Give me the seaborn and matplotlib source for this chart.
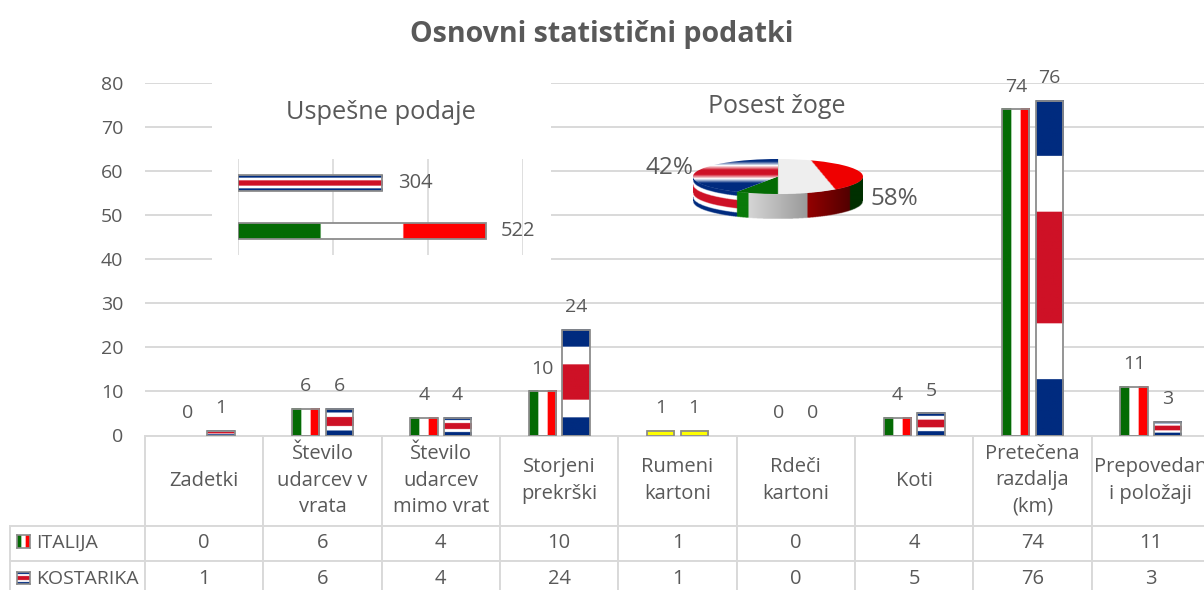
import numpy as np
import pandas as pd
import matplotlib
matplotlib.use('Agg')
import matplotlib.pyplot as plt
from matplotlib.colors import to_rgb
import seaborn as sns

# Podatki
categories = ["Zadetki", "Število\nudarcev v\nvrata", "Število\nudarcev\nmimo vrat", "Storjeni\nprekrški",
              "Rumeni\nkartoni", "Rdeči\nkartoni", "Koti", "Pretečena\nrazdalja\n(km)", "Prepovedan\ni položaji"]
italija = [0, 6, 4, 10, 1, 0, 4, 74, 11]
kostarika = [1, 6, 4, 24, 1, 0, 5, 76, 3]
teams = ["ITALIJA", "KOSTARIKA"]
passes = [304, 522]
pass_order = ["KOSTARIKA", "ITALIJA"]
possession = [58, 42]
yticks = [0, 10, 20, 30, 40, 50, 60, 70, 80]

W, H = 1204, 590
TXT = "#595959"
GRID = "#d9d9d9"
EDGE = "#8c8c8c"
GREEN, WHITE, RED = to_rgb("#046b04"), to_rgb("#ffffff"), to_rgb("#ff0000")
BLUE, CRED = to_rgb("#002b7f"), to_rgb("#ce1126")
YELLOW = to_rgb("#ffff00")

ITALY_FLAG = np.repeat(np.array([[GREEN, WHITE, RED]]), 40, axis=1)
COSTA_STRIPES = np.array([BLUE, WHITE, CRED, CRED, WHITE, BLUE])
COSTA_FLAG = np.repeat(COSTA_STRIPES[:, None, :], 40, axis=0)
COSTA_TOP = np.array([BLUE, WHITE, CRED, CRED, WHITE, BLUE, BLUE, BLUE])[:, None, :]
YELLOW_FLAG = np.array([[YELLOW]])

sns.set_theme(style="white")
plt.rcParams['font.family'] = ['Open Sans', 'DejaVu Sans']
plt.rcParams['text.color'] = TXT


def box(x0, y0, x1, y1):
    # pikselske koordinate (od zgoraj) -> delez slike
    return [x0 / W, 1 - y1 / H, (x1 - x0) / W, (y1 - y0) / H]


def fill_bar(ax, patch, flag):
    # zastava narisana kar v obliki stolpca
    x0, y0 = patch.get_x(), patch.get_y()
    ax.imshow(flag, extent=(x0, x0 + patch.get_width(), y0 + patch.get_height(), y0),
              aspect='auto', zorder=2.5, interpolation='antialiased')
    patch.set_facecolor('none')
    patch.set_zorder(3)


fig = plt.figure(figsize=(W / 100, H / 100), dpi=100, facecolor='white')
fig.text(602 / W, 1 - 34.5 / H, "Osnovni statistični podatki", ha='center', va='center',
         fontsize=20.6, fontweight='bold', color=TXT)

# Glavni graf
left, right, y0, y80 = 145, 1210, 435.5, 83
ax = fig.add_axes(box(left, y80, right, y0))
df = pd.DataFrame({
    'kategorija': categories * 2,
    'ekipa': [teams[0]] * len(categories) + [teams[1]] * len(categories),
    'vrednost': italija + kostarika,
})
sns.barplot(data=df, x='kategorija', y='vrednost', hue='ekipa', hue_order=teams, ax=ax,
            width=0.566, gap=0.18, legend=False, edgecolor=EDGE, linewidth=1.3, saturation=1)
for cont, flag in zip(ax.containers, [ITALY_FLAG, COSTA_FLAG]):
    for i, patch in enumerate(cont.patches):
        if patch.get_height() == 0:
            patch.set_visible(False)
            continue
        fill_bar(ax, patch, YELLOW_FLAG if categories[i] == "Rumeni\nkartoni" else flag)
ax.set_xlim(-0.5, len(categories) - 0.5)
ax.set_ylim(0, 80)
for cont in ax.containers:
    ax.bar_label(cont, padding=10, fontsize=14, color=TXT)
ax.set_yticks(yticks)
ax.tick_params(axis='y', length=0, pad=15.5, labelsize=14, labelcolor=TXT)
ax.set_xticks([])
ax.set_xlabel("")
ax.set_ylabel("")
ax.yaxis.grid(True, color=GRID, linewidth=1.4)
ax.set_axisbelow(True)
sns.despine(ax=ax, left=True, bottom=True)

# Tabela pod grafom
col0, colw = 135, (right - left) / len(categories)
cells = [[""] + categories,
         [teams[0]] + [str(v) for v in italija],
         [teams[1]] + [str(v) for v in kostarika]]
axw, axh = right - left, y0 - y80
table = ax.table(cellText=cells, cellLoc='center',
                 colWidths=[col0] + [colw] * len(categories),
                 bbox=[-col0 / axw, -(596 - y0) / axh, (col0 + axw) / axw, (596 - y0) / axh])
table.auto_set_font_size(False)
table.set_fontsize(14.5)
row_h = [90, 35.5, 35]
for (r, c), cell in table.get_celld().items():
    cell.set_height(row_h[r])
    cell.set_edgecolor(GRID)
    cell.set_linewidth(1.4)
    cell.get_text().set_color(TXT)
    cell.get_text().set_linespacing(1.42)
    if c == 0 and r > 0:
        cell.get_text().set_horizontalalignment('left')
        cell.get_text().set_fontsize(14)
        cell.PAD = 0.19
table[(0, 0)].set_visible(False)

# Oznake zastav v tabeli
for flag, (ky0, ky1) in zip([ITALY_FLAG, COSTA_FLAG], [(535, 548), (572, 584)]):
    kax = fig.add_axes(box(17, ky0, 30, ky1), zorder=3)
    kax.imshow(flag, aspect='auto', interpolation='antialiased')
    kax.set_xticks([])
    kax.set_yticks([])
    for s in kax.spines.values():
        s.set_color(EDGE)
        s.set_linewidth(1.2)

# Uspesne podaje - bel okvir prekrije mrezo glavnega grafa
panel = fig.add_axes(box(212, 70, 551, 282), zorder=1)
panel.set_facecolor('white')
panel.axis('off')
panel.add_patch(plt.Rectangle((0, 0), 1, 1, transform=panel.transAxes, color='white'))
fig.text(381 / W, 1 - 112.5 / H, "Uspešne podaje", ha='center', va='center', fontsize=18.3, color=TXT, zorder=4)

bax = fig.add_axes(box(238, 159, 523, 255), zorder=2)
bax.patch.set_alpha(0)
pdf = pd.DataFrame({'ekipa': pass_order, 'podaje': passes})
sns.barplot(data=pdf, y='ekipa', x='podaje', ax=bax, width=0.33, edgecolor=EDGE, linewidth=1.3,
            color='white')
for patch, flag in zip(bax.containers[0].patches, [COSTA_FLAG, ITALY_FLAG]):
    fill_bar(bax, patch, flag)
bax.set_xlim(0, 600)
bax.set_ylim(1.5, -0.5)
bax.bar_label(bax.containers[0], padding=11, fontsize=14.5, color=TXT)
bax.set_xticks([0, 200, 400, 600])
bax.set_xticklabels([])
bax.set_yticks([])
bax.set_xlabel("")
bax.set_ylabel("")
bax.tick_params(length=0)
bax.xaxis.grid(True, color=GRID, linewidth=1.2)
bax.set_axisbelow(True)
sns.despine(ax=bax, left=True, bottom=True)

# Posest zoge - 3D videz torte
fig.text(777 / W, 1 - 106 / H, "Posest žoge", ha='center', va='center', fontsize=18, color=TXT, zorder=4)
pax = fig.add_axes(box(690, 155, 866, 222), zorder=2)
pax.patch.set_alpha(0)
wedges, _ = pax.pie(possession, startangle=90, counterclock=False, radius=1)
pax.set_aspect('auto')
depth = 25 / 17.5
split = np.sin(np.deg2rad(360 * possession[0] / sum(possession)))

# vrh - poseben vzorec za Italijo
xs, ys = np.meshgrid(np.linspace(-1, 1, 340), np.linspace(1, -1, 70))
top = np.ones(xs.shape + (3,)) * to_rgb("#eeeeee")
top[xs < 0] = to_rgb("#046b04")
top[xs > 0.38 + (1 - ys) * 0.17] = to_rgb("#f00000")
for wedge, tex in zip(wedges, [top, COSTA_TOP]):
    wedge.set_facecolor('none')
    wedge.set_linewidth(0)
    im = pax.imshow(tex, extent=(-1, 1, -1, 1), aspect='auto', zorder=3, interpolation='bilinear')
    im.set_clip_path(wedge)

# stranska ploskev
sx, sy = np.meshgrid(np.linspace(-1, 1, 340), np.linspace(-1 - depth, 0, 160))
low = -np.sqrt(1 - sx ** 2)
t = (low - sy) / depth
side = np.zeros(sx.shape + (4,))
side[..., 3] = ((t >= 0) & (t <= 1)).astype(float)
grey = np.clip((sx + 0.35) / 0.7, 0, 1)
red = np.clip((sx - 0.35) / 0.5, 0, 1)
rgb = np.zeros(sx.shape + (3,))
rgb[:] = to_rgb("#0a7a0a")
mid = (sx >= -0.35) & (sx < 0.35)
rgb[mid] = (0.84 - 0.24 * grey[mid])[..., None] * np.ones(3)
rr = (sx >= 0.35) & (sx < 0.85)
rgb[rr, 0] = 0.58 - 0.26 * red[rr]
rgb[rr, 1] = 0
rgb[rr, 2] = 0
rgb[sx >= 0.85] = to_rgb("#003000")
costa = sx < split
idx = np.clip((t * 6).astype(int), 0, 5)
rgb[costa] = COSTA_STRIPES[idx[costa]]
side[..., :3] = rgb
pax.imshow(side, extent=(-1, 1, -1 - depth, 0), origin='lower', aspect='auto', zorder=2, interpolation='bilinear')
pax.set_xlim(-88 / 85, 88 / 85)
pax.set_ylim(-45.5 / 17.5, 21.5 / 17.5)

fig.text(670 / W, 1 - 168.5 / H, f"{possession[1]}%", ha='center', va='center', fontsize=17.5, color=TXT, zorder=5)
fig.text(894 / W, 1 - 198.5 / H, f"{possession[0]}%", ha='center', va='center', fontsize=17.5, color=TXT, zorder=5)

fig.savefig("out.png", dpi=100)
